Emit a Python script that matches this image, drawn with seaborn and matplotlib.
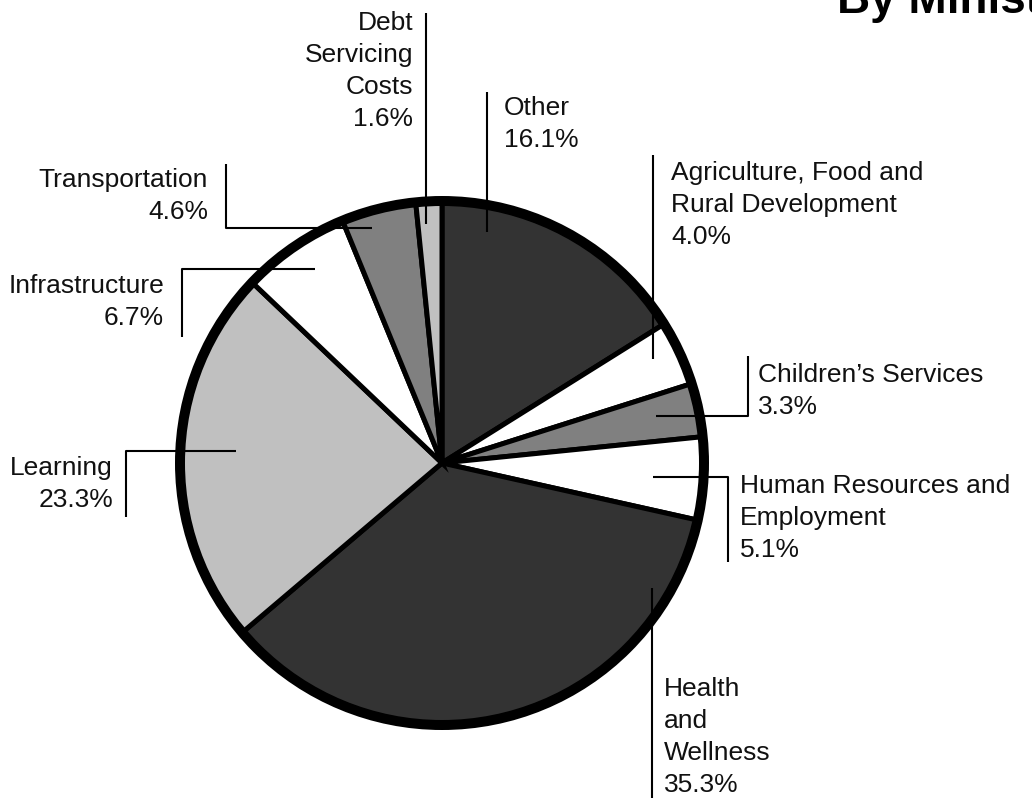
import matplotlib
matplotlib.use("Agg")
import matplotlib.pyplot as plt
import seaborn as sns
from matplotlib.patches import Circle

# ---- data ----
categories = ["Other", "Agriculture, Food and\nRural Development", "Children\u2019s Services",
              "Human Resources and\nEmployment", "Health\nand\nWellness", "Learning",
              "Infrastructure", "Transportation", "Debt\nServicing\nCosts"]
shares = [16.1, 4.0, 3.3, 5.1, 35.3, 23.3, 6.7, 4.6, 1.6]
fills = ["#333333", "#ffffff", "#808080", "#ffffff", "#333333", "#c0c0c0",
         "#ffffff", "#808080", "#c0c0c0"]
title = "By Ministry"

# ---- layout (pixel coordinates of the annotation text and leader lines) ----
label_pos = [  # x, first baseline, horizontal alignment
    (504, 115, "left"), (671, 180, "left"), (758, 382, "left"), (740, 493, "left"),
    (664, 696, "left"), (113, 475, "right"), (164, 293, "right"), (208, 187, "right"),
    (413, 30, "right"),
]
leaders = [
    [(487, 92), (487, 232)],
    [(653, 155), (653, 359)],
    [(748, 356), (748, 416), (656, 416)],
    [(653, 477), (728, 477), (728, 562)],
    [(652, 588), (652, 798)],
    [(236, 451), (126, 451), (126, 517)],
    [(315, 269), (182, 269), (182, 337)],
    [(226, 164), (226, 228), (372, 228)],
    [(426, 13), (426, 224)],
]
CX, CY, R = 442, 463, 262
LINE_STEP = 32

sns.set_theme(style="white")
plt.rcParams["font.family"] = ["Liberation Sans", "DejaVu Sans"]

W, H = 1032, 798
fig = plt.figure(figsize=(W / 100, H / 100), dpi=100)
ax = fig.add_axes([0, 0, 1, 1])

ax.pie(shares, colors=fills, startangle=-90, counterclock=True, center=(CX, CY), radius=R,
       wedgeprops=dict(edgecolor="black", linewidth=3.6), frame=True)
ax.add_patch(Circle((CX, CY), R, fill=False, edgecolor="black", linewidth=7.2, zorder=5))

ax.set_xlim(0, W)
ax.set_ylim(H, 0)
ax.set_aspect("equal")
ax.axis("off")

for path in leaders:
    xs = [p[0] for p in path]
    ys = [p[1] for p in path]
    ax.plot(xs, ys, color="black", linewidth=1.5, solid_capstyle="butt", zorder=6)

for name, val, (x, y0, ha) in zip(categories, shares, label_pos):
    lines = name.split("\n") + [f"{val:.1f}%"]
    for i, ln in enumerate(lines):
        ax.text(x, y0 + i * LINE_STEP, ln, ha=ha, va="baseline", fontsize=19,
                color="#111111", zorder=7)

ax.text(837, 13, title, ha="left", va="baseline", fontsize=33, fontweight="bold",
        color="black", zorder=7)

fig.savefig("out.png", dpi=100)
